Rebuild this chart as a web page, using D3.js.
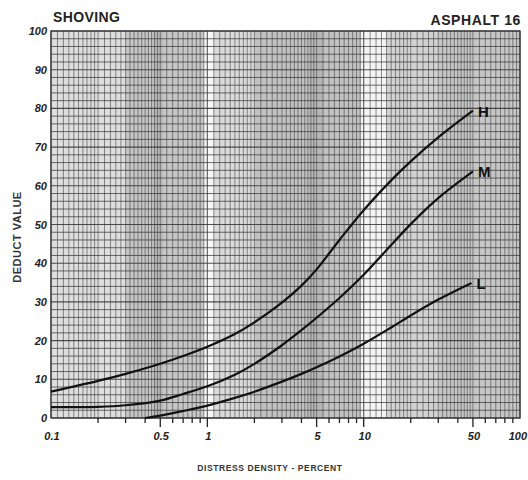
<!DOCTYPE html>
<html>
<head>
<meta charset="utf-8">
<script src="https://cdn.jsdelivr.net/npm/d3@7"></script>
<style>
  body { margin: 0; background: #fff; }
  svg { display: block; font-family: "Liberation Sans", Arial, sans-serif; }
  .tick-label { font-weight: bold; font-style: italic; font-size: 11px; fill: #222; }
  .title { font-weight: bold; font-size: 14px; fill: #222; }
  .axis-title { font-weight: bold; font-size: 8.5px; fill: #333; letter-spacing: 0.6px; }
  .curve-label { font-weight: bold; font-size: 15px; fill: #111; }
</style>
</head>
<body>
<div id="chart"></div>
<script>
// tick labels
const xTickLabels = [0.1, 0.5, 1, 5, 10, 50, 100];
const yTickLabels = [0, 10, 20, 30, 40, 50, 60, 70, 80, 90, 100];

// curves (distress density %, deduct value)
const densityH = [0.1, 0.2, 0.3, 0.5, 0.7, 1, 1.5, 2, 3, 4, 5, 7, 10, 15, 20, 30, 50];
const deductH  = [6.8, 9.6, 11.4, 14, 16, 18.4, 21.7, 24.7, 29.8, 34.2, 38.4, 46, 53.7, 61.4, 66.3, 72.5, 79.4];
const densityM = [0.1, 0.2, 0.3, 0.5, 0.7, 1, 1.5, 2, 3, 4, 5, 7, 10, 15, 20, 30, 50];
const deductM  = [2.8, 2.9, 3.3, 4.5, 6.2, 8.2, 11.2, 14, 18.8, 22.7, 25.9, 31, 37, 44.7, 50.1, 56.8, 63.7];
const densityL = [0.4, 0.5, 0.7, 1, 1.5, 2, 3, 4, 5, 7, 10, 15, 20, 30, 49];
const deductL  = [0, 0.6, 1.8, 3.2, 5.2, 6.8, 9.4, 11.4, 13.1, 15.9, 19.2, 23.4, 26.5, 30.6, 34.9];
const curveNames = [`H`, `M`, `L`];

// shading of the scanned graph paper (x ranges)
const bandStart = [0.1, 0.3, 0.45, 0.95, 1.1, 2, 4.5, 9.6, 14, 30];
const bandEnd   = [0.3, 0.95, 0.52, 1.1, 2, 9.6, 5.5, 14, 30, 100];
const bandGray  = [`#dedede`, `#c6c6c6`, `#b8b8b8`, `#f8f8f8`, `#dadada`, `#c2c2c2`, `#b6b6b6`, `#f4f4f4`, `#d2d2d2`, `#c6c6c6`];

const width = 528, height = 480;
const margin = { top: 31, right: 8, bottom: 62, left: 51 };

const svg = d3.select(`#chart`).append(`svg`)
    .attr(`width`, width)
    .attr(`height`, height);

const x = d3.scaleLog()
    .domain([0.1, 100])
    .range([margin.left, width - margin.right]);
const y = d3.scaleLinear()
    .domain([0, 100])
    .range([height - margin.bottom, margin.top]);

// paper shading
svg.append(`g`).selectAll(`rect`)
    .data(bandStart)
  .enter().append(`rect`)
    .attr(`x`, (d) => x(d))
    .attr(`width`, (d, i) => x(bandEnd[i]) - x(d))
    .attr(`y`, y(100))
    .attr(`height`, y(0) - y(100))
    .attr(`fill`, (d, i) => bandGray[i]);

// vertical grid: semi-log paper rulings
const vLines = [];
[0.1, 1, 10].forEach((dec) => {
  d3.range(1, 2, 0.1).forEach((v) => vLines.push(v * dec));
  d3.range(2, 5, 0.2).forEach((v) => vLines.push(v * dec));
  d3.range(5, 10, 0.5).forEach((v) => vLines.push(v * dec));
});
vLines.push(100);

const grid = svg.append(`g`).attr(`class`, `grid`);
grid.selectAll(`.v`)
    .data(vLines)
  .enter().append(`line`)
    .attr(`x1`, (d) => x(d))
    .attr(`x2`, (d) => x(d))
    .attr(`y1`, y(0))
    .attr(`y2`, y(100))
    .attr(`stroke`, `#444`)
    .attr(`stroke-width`, (d) => Math.abs(Math.log10(d) - Math.round(Math.log10(d))) < 1e-6 ? 1.2 : 0.75)
    .attr(`stroke-opacity`, 0.8);

grid.selectAll(`.h`)
    .data(d3.range(0, 101, 2))
  .enter().append(`line`)
    .attr(`x1`, x(0.1))
    .attr(`x2`, x(100))
    .attr(`y1`, (d) => y(d))
    .attr(`y2`, (d) => y(d))
    .attr(`stroke`, `#333`)
    .attr(`stroke-width`, (d) => d % 10 === 0 ? 1.1 : 0.85)
    .attr(`stroke-opacity`, 0.85);

// frame
svg.append(`rect`)
    .attr(`x`, x(0.1))
    .attr(`y`, y(100))
    .attr(`width`, x(100) - x(0.1))
    .attr(`height`, y(0) - y(100))
    .attr(`fill`, `none`)
    .attr(`stroke`, `#333`)
    .attr(`stroke-width`, 1.2);

// x ticks under the axis
const minorTicks = [];
[0.1, 1, 10].forEach((dec) => d3.range(2, 10).forEach((v) => minorTicks.push(v * dec)));
svg.append(`g`).selectAll(`line`)
    .data(minorTicks.concat([1, 10]))
  .enter().append(`line`)
    .attr(`x1`, (d) => x(d))
    .attr(`x2`, (d) => x(d))
    .attr(`y1`, y(0))
    .attr(`y2`, (d) => y(0) + (xTickLabels.includes(+d.toFixed(3)) ? 9 : 5))
    .attr(`stroke`, `#222`)
    .attr(`stroke-width`, 1.3);

svg.append(`g`).selectAll(`text`)
    .data(xTickLabels)
  .enter().append(`text`)
    .attr(`class`, `tick-label`)
    .attr(`x`, (d) => d === 100 ? width - 1 : x(d) + 1)
    .attr(`y`, 440)
    .attr(`text-anchor`, (d) => d === 100 ? `end` : `middle`)
    .text((d) => d);

svg.append(`g`).selectAll(`text`)
    .data(yTickLabels)
  .enter().append(`text`)
    .attr(`class`, `tick-label`)
    .attr(`x`, 47)
    .attr(`y`, (d) => y(d) + 4)
    .attr(`text-anchor`, `end`)
    .text((d) => d);

// curves
const line = d3.line()
    .x((d) => x(d[0]))
    .y((d) => y(d[1]))
    .curve(d3.curveCatmullRom.alpha(0.5));

const series = [
  d3.zip(densityH, deductH),
  d3.zip(densityM, deductM),
  d3.zip(densityL, deductL)
];

svg.append(`g`).selectAll(`path`)
    .data(series)
  .enter().append(`path`)
    .attr(`d`, line)
    .attr(`fill`, `none`)
    .attr(`stroke`, `#111`)
    .attr(`stroke-width`, 2.2);

svg.append(`g`).selectAll(`text`)
    .data(series)
  .enter().append(`text`)
    .attr(`class`, `curve-label`)
    .attr(`x`, (d) => x(d[d.length - 1][0]) + 5)
    .attr(`y`, (d) => y(d[d.length - 1][1]) + 6)
    .text((d, i) => curveNames[i]);

// titles
svg.append(`text`)
    .attr(`class`, `title`)
    .attr(`x`, 53)
    .attr(`y`, 22)
    .style(`letter-spacing`, `0.4px`)
    .text(`SHOVING`);
svg.append(`text`)
    .attr(`class`, `title`)
    .attr(`x`, 521)
    .attr(`y`, 25)
    .attr(`text-anchor`, `end`)
    .style(`letter-spacing`, `0.6px`)
    .text(`ASPHALT  16`);

svg.append(`text`)
    .attr(`class`, `axis-title`)
    .attr(`x`, 270)
    .attr(`y`, 471)
    .attr(`text-anchor`, `middle`)
    .text(`DISTRESS DENSITY - PERCENT`);

svg.append(`text`)
    .attr(`class`, `axis-title`)
    .attr(`transform`, `translate(21,237) rotate(-90)`)
    .attr(`text-anchor`, `middle`)
    .style(`font-size`, `11px`)
    .style(`letter-spacing`, `0.5px`)
    .text(`DEDUCT VALUE`);
</script>
</body>
</html>
